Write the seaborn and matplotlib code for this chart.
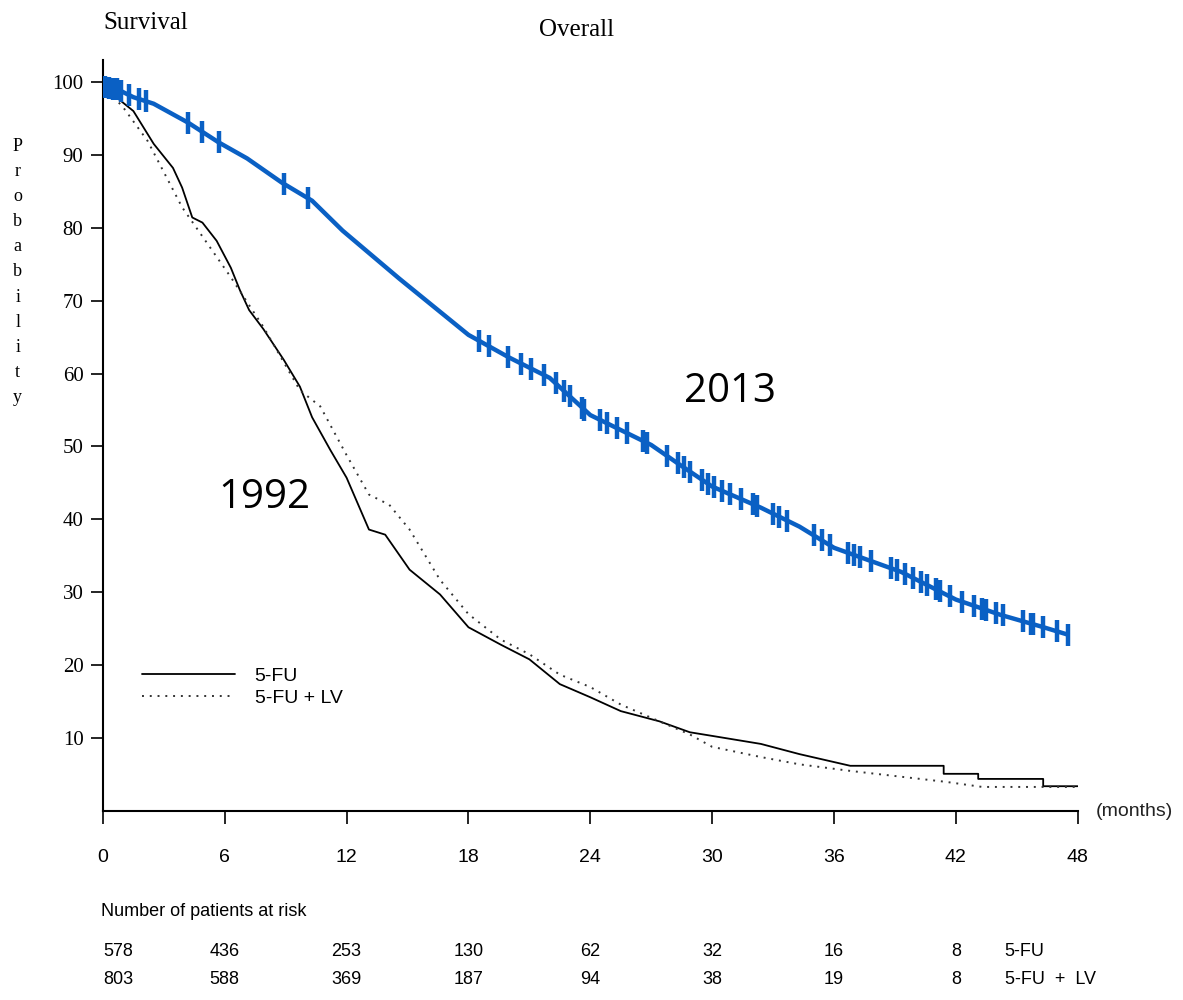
import numpy as np
import pandas as pd
import matplotlib
matplotlib.use("Agg")
import matplotlib.pyplot as plt
import seaborn as sns

# ---------------- data ----------------
# 2013 curve (months, survival %)
t2013 = [0, 0.7, 1.5, 2.5, 4.2, 5.7, 7.1, 8.8, 10.3, 11.8, 14.6, 18.0, 20.0, 22.0,
         24.0, 27.0, 28.4, 30.0, 32.4, 34.3, 36.0, 39.3, 42.0, 44.2, 46.2, 47.5]
s2013 = [99.3, 99.0, 97.9, 97.0, 94.4, 91.7, 89.5, 86.2, 83.7, 79.6, 73.0, 65.3, 62.2, 59.4,
         54.3, 50.2, 47.5, 44.5, 41.6, 39.0, 36.1, 32.8, 29.0, 26.9, 25.3, 24.2]
# censoring marks on the 2013 curve (months)
cens2013 = [0.1, 0.3, 0.5, 0.7, 0.9, 1.3, 1.8, 2.1, 4.2, 4.9, 5.7, 8.9, 10.1,
            18.5, 19.0, 19.95, 20.6, 21.1, 21.7, 22.3, 22.7, 23.0, 23.6, 23.7, 24.5, 24.8,
            25.3, 25.8, 26.6, 26.8, 27.8, 28.3, 28.6, 28.9, 29.5, 29.8, 30.1, 30.5, 30.9,
            31.4, 32.0, 32.2, 33.0, 33.3, 33.7, 35.0, 35.4, 35.8, 36.7, 37.0, 37.3, 37.8,
            38.8, 39.1, 39.5, 39.9, 40.3, 40.6, 41.0, 41.2, 41.7, 42.3, 42.9, 43.3, 43.5,
            44.0, 44.3, 45.3, 45.7, 45.8, 46.3, 47.0, 47.5]

# 1992: 5-FU (solid)
t_fu = [0, 0.7, 1.5, 2.5, 3.45, 3.9, 4.4, 4.9, 5.6, 6.3, 6.75, 7.2, 7.9, 8.9, 9.7, 10.3, 11.2, 12.0,
        13.1, 13.9, 15.1, 16.6, 18.0, 19.6, 21.0, 22.5, 24.0, 25.5, 27.4, 28.9, 30.0, 32.4,
        34.3, 36.8, 41.4, 41.4, 43.1, 43.1, 46.3, 46.3, 48.0]
s_fu = [99.5, 97.8, 96.0, 91.5, 88.2, 85.5, 81.4, 80.7, 78.2, 74.5, 71.4, 68.7, 66.1, 61.9, 58.2, 54.0,
        49.5, 45.7, 38.6, 37.9, 33.1, 29.7, 25.2, 22.8, 20.8, 17.4, 15.6, 13.7, 12.3, 10.8, 10.3, 9.2,
        7.8, 6.2, 6.2, 5.1, 5.1, 4.4, 4.4, 3.4, 3.4]
# 1992: 5-FU + LV (dotted)
t_lv = [0, 1.0, 2.2, 3.9, 6.3, 7.9, 9.7, 10.7, 12.0, 13.1, 14.1, 15.1, 16.6, 18.0, 19.6,
        21.0, 22.5, 24.0, 25.5, 27.4, 28.9, 30.0, 32.4, 34.3, 36.8, 41.5, 43.3, 48.0]
s_lv = [99.5, 96.5, 91.9, 82.8, 73.2, 66.4, 57.7, 55.5, 48.8, 43.4, 42.0, 38.6, 31.7, 27.0, 23.5,
        21.5, 18.7, 17.0, 14.6, 12.3, 10.5, 8.8, 7.4, 6.4, 5.5, 4.0, 3.3, 3.3]

x_ticks = [0, 6, 12, 18, 24, 30, 36, 42, 48]
y_ticks = [10, 20, 30, 40, 50, 60, 70, 80, 90, 100]
risk_times = [0, 6, 12, 18, 24, 30, 36, 42]
risk_fu = ["578", "436", "253", "130", "62", "32", "16", "8"]
risk_lv = ["803", "588", "369", "187", "94", "38", "19", "8"]

# ---------------- plotting ----------------
sns.set_style("ticks")
plt.rcParams['font.family'] = ['Liberation Serif', 'DejaVu Sans']
plt.rcParams['text.color'] = 'black'
plt.rcParams['xtick.color'] = 'black'
plt.rcParams['ytick.color'] = 'black'
plt.rcParams['axes.labelcolor'] = 'black'

fig = plt.figure(figsize=(11.83, 10), dpi=100)
ax = fig.add_axes([0.087, 0.189, 0.824, 0.751])

df_fu = pd.DataFrame({"t": t_fu, "s": s_fu})
df_lv = pd.DataFrame({"t": t_lv, "s": s_lv})
df_13 = pd.DataFrame({"t": t2013, "s": s2013})

sns.lineplot(data=df_fu, x="t", y="s", ax=ax, color="black", lw=1.3,
             estimator=None, sort=False, label="5-FU")
sns.lineplot(data=df_lv, x="t", y="s", ax=ax, color="#333333", lw=1.4,
             linestyle=(0, (1, 3)), estimator=None, sort=False, label="5-FU + LV")
sns.lineplot(data=df_13, x="t", y="s", ax=ax, color="#0a60c4", lw=3.2,
             estimator=None, sort=False, label="_nolegend_")
cens_y = np.interp(cens2013, t2013, s2013)
sns.scatterplot(x=cens2013, y=cens_y, ax=ax, marker="|", s=240, linewidth=3.2,
                color="#0a60c4", label="_nolegend_", zorder=5)

ax.set_xlim(0, 48)
ax.set_ylim(0, 103)
ax.set_xticks(x_ticks)
ax.set_xticklabels([str(v) for v in x_ticks], fontsize=14, family="Liberation Sans")
ax.set_yticks(y_ticks)
ax.set_yticklabels([str(v) for v in y_ticks], fontsize=15)
ax.tick_params(axis="both", direction="out", length=9, width=1.2, color="black")
ax.tick_params(axis="x", pad=18)
ax.tick_params(axis="y", pad=5)
ax.set_xlabel("")
ax.set_ylabel("")
sns.despine(ax=ax)
for sp in ["left", "bottom"]:
    ax.spines[sp].set_linewidth(1.5)
    ax.spines[sp].set_color("black")
ax.spines["left"].set_bounds(0, 103)

leg = ax.legend(loc="upper left", bbox_to_anchor=(0.022, 0.215), frameon=False,
                handlelength=4.8, labelspacing=0.25, handletextpad=1.0,
                prop={"family": "Liberation Sans", "size": 14})

# texts
fig.text(0.087, 0.977, "Survival", fontsize=18, ha="left", va="center")
fig.text(0.456, 0.97, "Overall", fontsize=18, ha="left", va="center")
fig.text(0.015, 0.728, "\n".join("Probability"), fontsize=13, ha="center", va="center",
         linespacing=1.63)
fig.text(0.926, 0.188, "(months)", fontsize=14, ha="left", va="center",
         family="Liberation Sans", color="#222222")
ax.text(28.6, 57.5, "2013", fontsize=29, family="Open Sans", ha="left", va="center")
ax.text(5.7, 43.0, "1992", fontsize=29, family="Open Sans", ha="left", va="center")

# number at risk table
fig.text(0.085, 0.088, "Number of patients at risk", fontsize=13, ha="left", va="center",
         family="Liberation Sans")
for i, t in enumerate(risk_times):
    ha = "left" if i == 0 else "center"
    ax.annotate(risk_fu[i], xy=(t, 0.048), xycoords=("data", "figure fraction"),
                ha=ha, va="center", fontsize=13, family="Liberation Sans", annotation_clip=False)
    ax.annotate(risk_lv[i], xy=(t, 0.020), xycoords=("data", "figure fraction"),
                ha=ha, va="center", fontsize=13, family="Liberation Sans", annotation_clip=False)
ax.annotate("5-FU", xy=(44.4, 0.048), xycoords=("data", "figure fraction"),
            ha="left", va="center", fontsize=13, family="Liberation Sans", annotation_clip=False)
ax.annotate("5-FU  +  LV", xy=(44.4, 0.020), xycoords=("data", "figure fraction"),
            ha="left", va="center", fontsize=13, family="Liberation Sans", annotation_clip=False)

fig.savefig("out.png", dpi=100)
